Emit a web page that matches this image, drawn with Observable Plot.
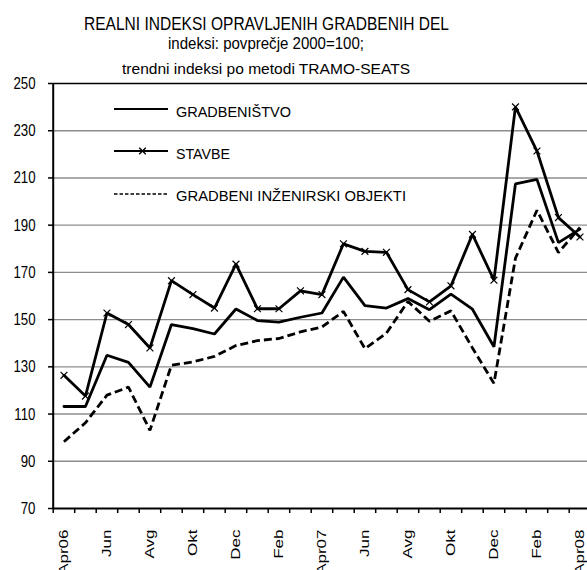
<!DOCTYPE html>
<html><head><meta charset="utf-8">
<script src="https://cdn.jsdelivr.net/npm/d3@7"></script>
<script src="https://cdn.jsdelivr.net/npm/@observablehq/plot@0.6"></script>
<style>
body{margin:0;background:#fff;font-family:"Liberation Sans",Arial,sans-serif;color:#000;}
#wrap{position:relative;width:587px;height:570px;overflow:hidden;}
.tl{position:absolute;white-space:nowrap;line-height:1;transform-origin:0 0;}
#chart{position:absolute;left:0;top:78px;}
.lgt{position:absolute;white-space:nowrap;line-height:1;font-size:15px;transform-origin:0 0;}
.lgs{position:absolute;}
</style></head><body>
<div id="wrap"><div id="title"></div><div id="chart"></div><div id="legend"></div></div>
<script>
const months = ["Apr06","Maj","Jun","Jul","Avg","Sep","Okt","Nov","Dec","Jan","Feb","Mar","Apr07","Maj","Jun","Jul","Avg","Sep","Okt","Nov","Dec","Jan","Feb","Mar","Apr08"];
const tickLabels = ["Apr06","Jun","Avg","Okt","Dec","Feb","Apr07","Jun","Avg","Okt","Dec","Feb","Apr08"];
const gradbenistvo = [113.2,113.2,134.9,131.9,121.4,147.9,146.2,143.9,154.5,149.6,148.9,151.0,152.8,168.0,155.9,154.9,158.9,154.2,160.8,154.4,138.5,207.5,209.4,182.6,188.3];
const stavbe = [126.4,117.6,152.8,147.9,138.0,166.5,160.6,154.9,173.5,154.6,154.6,162.2,160.6,182.1,178.9,178.5,162.7,157.5,164.3,186.1,166.7,240.1,221.4,193.2,185.0];
const inzenirski = [98.3,106.3,118.0,121.4,103.1,130.7,132.1,134.4,139.0,141.1,142.0,144.8,146.9,153.5,137.7,144.3,157.7,149.3,153.7,138.0,123.0,176.0,196.3,178.4,189.0];
const seriesNames = ["GRADBENIŠTVO","STAVBE","GRADBENI INŽENIRSKI OBJEKTI"];
const titleLines = ["REALNI INDEKSI OPRAVLJENIH GRADBENIH DEL","indeksi: povprečje 2000=100;","trendni indeksi po metodi TRAMO-SEATS"];
const yTicks = [70,90,110,130,150,170,190,210,230,250];

const FONT = '"Liberation Sans", Arial, sans-serif';
const data = months.map((m, i) => ({idx: i, month: m, g: gradbenistvo[i], s: stavbe[i], e: inzenirski[i]}));
const xc = d => d.idx + 0.5;

// Title
const titleBox = document.getElementById("title");
const tStyle = [
  {fs: 18.5, base: 31, w: 365},
  {fs: 16, base: 50, w: 196},
  {fs: 15.5, base: 74, w: 288}
];
const titleCenter = 266;
titleLines.forEach((txt, k) => {
  const s = tStyle[k];
  const el = document.createElement("div");
  el.className = "tl";
  el.textContent = txt;
  el.style.fontSize = s.fs + "px";
  el.style.top = (s.base - 0.8465 * s.fs) + "px";
  titleBox.appendChild(el);
  const nat = el.getBoundingClientRect().width;
  const k2 = s.w / nat;
  el.style.left = (titleCenter - s.w / 2) + "px";
  el.style.transform = `scaleX(${k2})`;
});

// Chart
const chart = Plot.plot({
  width: 587,
  height: 492,
  marginTop: 5,
  marginBottom: 62,
  marginLeft: 53,
  marginRight: 0,
  style: {fontFamily: FONT, fontSize: "17px", background: "transparent", color: "#000", overflow: "visible"},
  x: {type: "linear", domain: [0, 25], range: [52.7, 590.2], label: null},
  y: {domain: [70, 250], label: null},
  marks: [
    Plot.gridY(yTicks.filter(v => v > 70 && v < 250), {stroke: "#8c8c8c", strokeOpacity: 1, strokeWidth: 1.4}),
    Plot.ruleY([250], {stroke: "#000", strokeWidth: 1.6}),
    Plot.line(data, {x: xc, y: "e", stroke: "#000", strokeWidth: 2.8, strokeDasharray: "8,4", strokeLinecap: "butt", strokeLinejoin: "miter"}),
    Plot.line(data, {x: xc, y: "g", stroke: "#000", strokeWidth: 2.8, strokeLinejoin: "miter"}),
    Plot.line(data, {x: xc, y: "s", stroke: "#000", strokeWidth: 2.8, strokeLinejoin: "miter"}),
    Plot.dot(data, {x: xc, y: "s", symbol: "times", r: 3.2, stroke: "#000", strokeWidth: 1.2}),
    Plot.ruleX([0], {stroke: "#000", strokeWidth: 2}),
    Plot.ruleY([70], {stroke: "#000", strokeWidth: 2}),
    Plot.axisY(yTicks, {anchor: "left", tickSize: 5, tickPadding: 13, fontSize: 17, label: null, strokeWidth: 1.5}),
    Plot.axisX(d3.range(0, 25), {anchor: "bottom", tickSize: 5, tickFormat: () => "", label: null, strokeWidth: 1.5}),
    Plot.axisX(tickLabels.map((_, k) => 2 * k + 0.5), {anchor: "bottom", tickSize: 0, tickPadding: 21, tickRotate: -90, fontSize: 17, label: null, tickFormat: v => tickLabels[Math.round((v - 0.5) / 2)]})
  ]
});
document.getElementById("chart").appendChild(chart);

function squeeze(t, sx, sy) {
  const tr = t.getAttribute("transform");
  if (tr) t.setAttribute("transform", tr + ` scale(${sx},${sy})`);
  else {
    const x = +t.getAttribute("x") || 0, y = +t.getAttribute("y") || 0;
    t.setAttribute("transform", `translate(${x},${y}) scale(${sx},${sy})`);
    t.removeAttribute("x"); t.removeAttribute("y");
  }
}
chart.querySelectorAll('g[aria-label="y-axis tick label"] text').forEach(t => squeeze(t, 0.78, 1));
chart.querySelectorAll('g[aria-label="x-axis tick label"] text').forEach(t => { if (t.textContent) squeeze(t, 1, 0.7); });

// Legend (inside plot area)
const legend = document.getElementById("legend");
const lgItems = [
  {name: seriesNames[0], cy: 109.3, w: 115, dash: null, sw: 2, mark: false},
  {name: seriesNames[1], cy: 151.3, w: 54, dash: null, sw: 2, mark: true},
  {name: seriesNames[2], cy: 193.5, w: 230, dash: "3.5,2", sw: 1.5, mark: false}
];
lgItems.forEach(it => {
  const sv = d3.create("svg").attr("class", "lgs").attr("width", 56).attr("height", 12)
    .style("left", "113px").style("top", (it.cy - 6) + "px");
  sv.append("line").attr("x1", 1).attr("x2", 55).attr("y1", 6).attr("y2", 6)
    .attr("stroke", "#000").attr("stroke-width", it.sw).attr("stroke-dasharray", it.dash);
  if (it.mark) {
    sv.append("path").attr("d", d3.symbol(d3.symbolTimes, 30)()).attr("transform", "translate(29.5,6)")
      .attr("stroke", "#000").attr("stroke-width", 1.4).attr("fill", "none");
  }
  legend.appendChild(sv.node());
  const el = document.createElement("div");
  el.className = "lgt";
  el.textContent = it.name;
  el.style.left = "176px";
  el.style.top = (it.cy + 1.5 + 5.4 - 0.8465 * 15) + "px";
  legend.appendChild(el);
  const nat = el.getBoundingClientRect().width;
  el.style.transform = `scaleX(${it.w / nat})`;
});
</script>
</body></html>
